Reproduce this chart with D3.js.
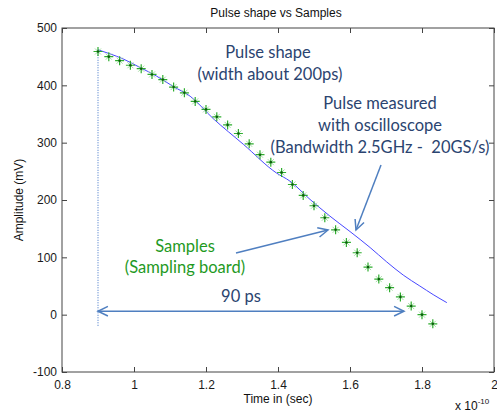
<!DOCTYPE html>
<html>
<head>
<meta charset="utf-8">
<script src="https://cdn.jsdelivr.net/npm/d3@7"></script>
<style>
  body { margin: 0; background: #fff; }
  svg { display: block; }
  .tick text { font-family: "Liberation Sans", Arial, sans-serif; font-size: 12px; fill: #1a1a1a; }
  .note { font-family: Lato, "Open Sans", sans-serif; font-size: 16.5px; text-anchor: middle; white-space: pre; }
</style>
</head>
<body>
<div id="chart"></div>
<script>
// time in units of 1e-10 s, amplitude in mV
const sampleX = [0.90, 0.93, 0.96, 0.99, 1.02, 1.05, 1.08, 1.11, 1.14, 1.17, 1.20, 1.23, 1.26, 1.29, 1.32, 1.35,
  1.38, 1.41, 1.44, 1.47, 1.50, 1.53, 1.56, 1.59, 1.62, 1.65, 1.68, 1.71, 1.74, 1.77, 1.80, 1.83];
const sampleY = [459, 450, 443, 435, 429, 419, 410, 397, 387, 372, 358, 345, 331, 316, 298, 279,
  266, 248, 227, 208, 190, 169, 148, 126, 108, 83, 62, 47, 31, 15, 0, -16];

const pulseX = [0.900, 0.933, 0.970, 1.017, 1.063, 1.109, 1.156, 1.220, 1.304, 1.396, 1.433, 1.489,
  1.544, 1.600, 1.656, 1.702, 1.748, 1.794, 1.831, 1.869];
const pulseY = [462, 455, 446, 431, 416, 398, 381, 342, 297, 247, 233, 201,
  172, 145, 117, 92, 69, 50, 35, 21];

const xTicks = [0.8, 1, 1.2, 1.4, 1.6, 1.8, 2];
const yTicks = [-100, 0, 100, 200, 300, 400, 500];

const width = 497;
const height = 414;
const margin = { top: 28, right: 3, bottom: 42, left: 62 };

const svg = d3.select('#chart').append('svg')
  .attr('width', width)
  .attr('height', height);

const xScale = d3.scaleLinear().domain([0.8, 2]).range([margin.left, width - margin.right]);
const yScale = d3.scaleLinear().domain([-100, 500]).range([height - margin.bottom, margin.top]);

const plotLeft = margin.left, plotRight = width - margin.right;
const plotTop = margin.top, plotBottom = height - margin.bottom;

// box
svg.append('rect')
  .attr('x', plotLeft).attr('y', plotTop)
  .attr('width', plotRight - plotLeft).attr('height', plotBottom - plotTop)
  .attr('fill', 'none').attr('stroke', '#444').attr('stroke-width', 1);

// axes (ticks inward)
const fmt = (d) => String(d);
svg.append('g')
  .attr('transform', `translate(0, ${plotBottom})`)
  .call(d3.axisBottom(xScale).tickValues(xTicks).tickFormat(fmt).tickSize(-5).tickPadding(8))
  .call((g) => g.select('.domain').remove())
  .call((g) => g.selectAll('.tick line').attr('stroke', '#444'));
svg.append('g')
  .attr('transform', `translate(0, ${plotTop})`)
  .call(d3.axisTop(xScale).tickValues(xTicks).tickFormat('').tickSize(-5))
  .call((g) => g.select('.domain').remove())
  .call((g) => g.selectAll('.tick line').attr('stroke', '#444'));
svg.append('g')
  .attr('transform', `translate(${plotLeft}, 0)`)
  .call(d3.axisLeft(yScale).tickValues(yTicks).tickFormat(fmt).tickSize(-5).tickPadding(5))
  .call((g) => g.select('.domain').remove())
  .call((g) => g.selectAll('.tick line').attr('stroke', '#444'));
svg.append('g')
  .attr('transform', `translate(${plotRight}, 0)`)
  .call(d3.axisRight(yScale).tickValues(yTicks).tickFormat('').tickSize(-5))
  .call((g) => g.select('.domain').remove())
  .call((g) => g.selectAll('.tick line').attr('stroke', '#444'));

// title and labels
svg.append('text')
  .attr('x', 276).attr('y', 17)
  .attr('text-anchor', 'middle')
  .style('font-family', '"Liberation Sans", Arial, sans-serif')
  .style('font-size', '12px')
  .attr('fill', '#111')
  .text('Pulse shape vs Samples');

svg.append('text')
  .attr('transform', `translate(23, ${(plotTop + plotBottom) / 2}) rotate(-90)`)
  .attr('text-anchor', 'middle')
  .style('font-family', '"Liberation Sans", Arial, sans-serif')
  .style('font-size', '12px')
  .attr('fill', '#111')
  .text('Amplitude (mV)');

svg.append('text')
  .attr('x', (plotLeft + plotRight) / 2).attr('y', 403)
  .attr('text-anchor', 'middle')
  .style('font-family', '"Liberation Sans", Arial, sans-serif')
  .style('font-size', '12px')
  .attr('fill', '#111')
  .text('Time in (sec)');

const expo = svg.append('text')
  .attr('x', 455).attr('y', 410)
  .style('font-family', '"Liberation Sans", Arial, sans-serif')
  .style('font-size', '12px')
  .attr('fill', '#111');
expo.append('tspan').text('x 10');
expo.append('tspan').attr('dy', -6).style('font-size', '8px').text('-10');

// dotted marker line at first sample
svg.append('line')
  .attr('x1', xScale(sampleX[0])).attr('x2', xScale(sampleX[0]))
  .attr('y1', yScale(pulseY[0])).attr('y2', yScale(-20))
  .attr('stroke', '#3a6fc4').attr('stroke-width', 1)
  .attr('stroke-dasharray', '1,1.5');

// pulse shape line
const line = d3.line()
  .x((d, i) => xScale(pulseX[i]))
  .y((d) => yScale(d))
  .curve(d3.curveMonotoneX);
svg.append('path')
  .datum(pulseY)
  .attr('d', line)
  .attr('fill', 'none')
  .attr('stroke', '#4747ff')
  .attr('stroke-width', 1);

// samples ('*' markers)
const samples = sampleX.map((x, i) => ({ x, y: sampleY[i] }));
const marks = svg.append('g').selectAll('g')
  .data(samples)
  .join('g')
  .attr('transform', (d) => `translate(${xScale(d.x)}, ${yScale(d.y)})`);
marks.append('path')
  .attr('d', 'M-4.5,0H4.5M0,-4.5V4.5')
  .attr('stroke', '#2fae2f').attr('stroke-width', 1.2);
marks.append('path')
  .attr('d', 'M-3,-3L3,3M-3,3L3,-3')
  .attr('stroke', '#9ad89a').attr('stroke-width', 0.9);
marks.append('circle')
  .attr('r', 1.3).attr('fill', '#0b5e0b');

// annotations
const noteBlue = '#2b4470';
const noteGreen = '#1f9a1f';
const arrowBlue = '#4f7fc0';

function note(x, y, txt, color) {
  svg.append('text').attr('class', 'note')
    .attr('x', x).attr('y', y)
    .attr('fill', color)
    .text(txt);
}
note(268, 58, 'Pulse shape', noteBlue);
note(270, 80, '(width about 200ps)', noteBlue);
note(380, 109, 'Pulse measured', noteBlue);
note(380, 131, 'with oscilloscope', noteBlue);
note(380, 153, '(Bandwidth 2.5GHz -  20GS/s)', noteBlue);
note(185, 252, 'Samples', noteGreen);
note(185, 273, '(Sampling board)', noteGreen);
note(241, 302, '90 ps', noteBlue);

function arrowHead(x1, y1, x2, y2) {
  const a = Math.atan2(y2 - y1, x2 - x1);
  const len = 11, spread = 0.45;
  const p1 = [x2 - len * Math.cos(a - spread), y2 - len * Math.sin(a - spread)];
  const p2 = [x2 - len * Math.cos(a + spread), y2 - len * Math.sin(a + spread)];
  return `M${p1[0]},${p1[1]}L${x2},${y2}L${p2[0]},${p2[1]}`;
}
function arrow(x1, y1, x2, y2, both) {
  svg.append('line')
    .attr('x1', x1).attr('y1', y1).attr('x2', x2).attr('y2', y2)
    .attr('stroke', arrowBlue).attr('stroke-width', 1.5);
  svg.append('path').attr('d', arrowHead(x1, y1, x2, y2))
    .attr('fill', 'none').attr('stroke', arrowBlue).attr('stroke-width', 1.5);
  if (both) {
    svg.append('path').attr('d', arrowHead(x2, y2, x1, y1))
      .attr('fill', 'none').attr('stroke', arrowBlue).attr('stroke-width', 1.5);
  }
}
arrow(381, 165, 356, 230, false);
arrow(236, 253, 328, 230, false);
arrow(xScale(0.9), yScale(6), xScale(1.75), yScale(6), true);
</script>
</body>
</html>
